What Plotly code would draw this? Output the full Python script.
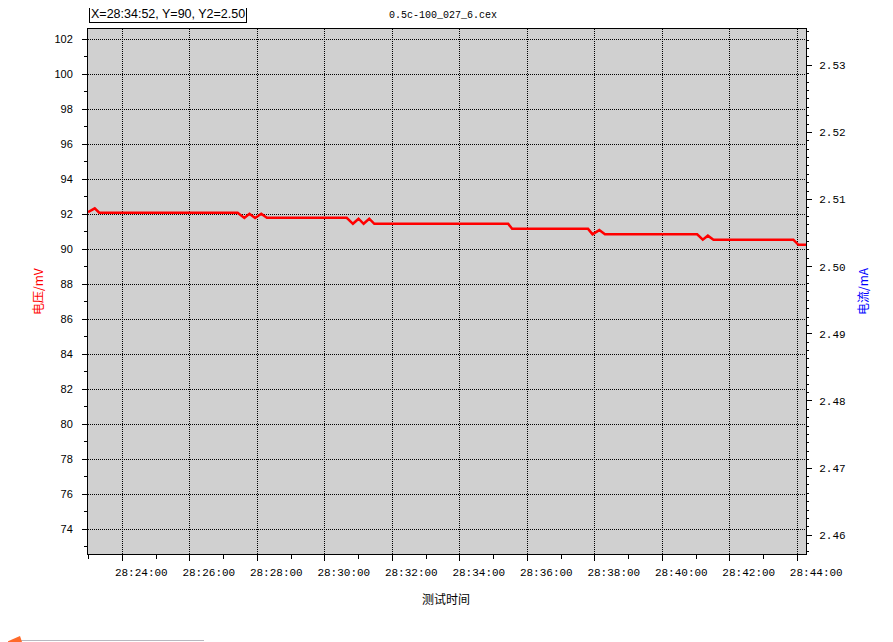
"""Voltage trace over test time, with a right-hand current axis."""

import plotly.graph_objects as go

# sample times (hours run past 24) and the voltage, mV
times = [
    "28:22:59", "28:23:11", "28:23:19", "28:27:25", "28:27:37", "28:27:46",
    "28:27:56", "28:28:07", "28:28:17", "28:30:39", "28:30:50", "28:31:00",
    "28:31:09", "28:31:19", "28:31:28", "28:35:26", "28:35:33", "28:37:48",
    "28:37:56", "28:38:08", "28:38:18", "28:41:02", "28:41:12", "28:41:21",
    "28:41:31", "28:43:53", "28:44:02", "28:44:16",
]
voltage = [
    92.13, 92.34, 92.09, 92.09, 91.79, 92.03,
    91.79, 92.03, 91.80, 91.80, 91.46, 91.75,
    91.46, 91.75, 91.46, 91.46, 91.17, 91.17,
    90.86, 91.10, 90.86, 90.86, 90.55, 90.78,
    90.55, 90.55, 90.26, 90.26,
]

x_tick_labels = [
    "28:24:00", "28:26:00", "28:28:00", "28:30:00", "28:32:00", "28:34:00",
    "28:36:00", "28:38:00", "28:40:00", "28:42:00", "28:44:00",
]
x_range_labels = ["28:22:59", "28:44:15.5"]
voltage_range = [72.59, 102.59]
current_range = [2.4572, 2.5354]

title_text = "0.5c-100_027_6.cex"
cursor_text = "X=28:34:52, Y=90, Y2=2.50"


def to_seconds(label):
    h, m, s = label.split(":")
    return int(h) * 3600 + int(m) * 60 + float(s)


x = [to_seconds(t) for t in times]
tick_vals = [to_seconds(t) for t in x_tick_labels]

MONO = "Liberation Mono, monospace"
CJK = "Noto Sans CJK SC, sans-serif"

# the page body keeps its 8px default margin, so the figure is drawn 8px in
OFF = 8
W, H = 893 - OFF, 642 - OFF

fig = go.Figure()
fig.add_trace(
    go.Scatter(
        x=x,
        y=voltage,
        mode="lines",
        line={"color": "#ff0000", "width": 2.5},
        showlegend=False,
        hovertemplate="%{y:.2f} mV<extra></extra>",
    )
)
# empty trace so the right-hand current axis is drawn
fig.add_trace(go.Scatter(x=[None], y=[None], yaxis="y2", showlegend=False, hoverinfo="skip"))

grid = {"showgrid": True, "gridcolor": "#000000", "gridwidth": 1, "griddash": "1px,1px"}

fig.update_layout(
    width=W,
    height=H,
    margin={"l": 88 - OFF, "r": W - (806 - OFF), "t": 29 - OFF, "b": H - (554 - OFF)},
    paper_bgcolor="#ffffff",
    plot_bgcolor="#d0d0d0",
    title={
        "text": title_text,
        "x": (443 - OFF) / W,
        "xanchor": "center",
        "y": 1 - (14 - OFF) / H,
        "yanchor": "middle",
        "font": {"family": MONO, "size": 10, "color": "#000000"},
    },
    xaxis={
        **grid,
        "range": [to_seconds(v) for v in x_range_labels],
        "tickmode": "array",
        "tickvals": tick_vals,
        "ticktext": x_tick_labels,
        "ticks": "outside",
        "ticklen": 6,
        "tickcolor": "#000000",
        "ticklabelshift": 19,
        "ticklabelstandoff": 2,
        "tickfont": {"family": MONO, "size": 11, "color": "#000000"},
        "minor": {"dtick": 60, "tick0": 0, "ticks": "outside", "ticklen": 4, "tickcolor": "#000000", "showgrid": False},
        "showline": True,
        "linecolor": "#000000",
        "linewidth": 1,
        "mirror": True,
        "zeroline": False,
    },
    yaxis={
        **grid,
        "range": voltage_range,
        "dtick": 2,
        "tick0": 0,
        "ticks": "outside",
        "ticklen": 5,
        "tickcolor": "#000000",
        "ticklabelstandoff": 7,
        "tickfont": {"family": "Liberation Sans, Arial", "size": 11, "color": "#000000"},
        "minor": {"dtick": 1, "tick0": 0, "ticks": "outside", "ticklen": 3, "tickcolor": "#000000", "showgrid": False},
        "showline": True,
        "linecolor": "#000000",
        "linewidth": 1,
        "zeroline": False,
    },
    yaxis2={
        "overlaying": "y",
        "side": "right",
        "range": current_range,
        "dtick": 0.01,
        "tick0": 0,
        "tickformat": ".2f",
        "showgrid": False,
        "ticks": "outside",
        "ticklen": 5,
        "tickcolor": "#000000",
        "ticklabelstandoff": 5,
        "tickfont": {"family": MONO, "size": 11, "color": "#000000"},
        "minor": {"dtick": 0.00125, "tick0": 0, "ticks": "outside", "ticklen": 2, "tickcolor": "#000000", "showgrid": False},
        "showline": True,
        "linecolor": "#000000",
        "linewidth": 1,
        "zeroline": False,
    },
    annotations=[
        {
            "text": cursor_text,
            "xref": "paper", "yref": "paper",
            "x": 0.001, "y": 1 + 14.5 / 525,
            "xanchor": "left", "yanchor": "middle",
            "showarrow": False,
            "font": {"family": "Liberation Sans, Arial", "size": 12.5, "color": "#000000"},
            "bordercolor": "#000000", "borderwidth": 1, "borderpad": 1,
            "bgcolor": "#ffffff",
        },
        {
            "text": "电压/mV",
            "xref": "paper", "yref": "paper",
            "x": (37.5 - 88) / 718, "y": 0.5,
            "xanchor": "center", "yanchor": "middle",
            "textangle": -90, "showarrow": False,
            "font": {"family": CJK, "size": 12, "color": "#ff0000"},
        },
        {
            "text": "电流/mA",
            "xref": "paper", "yref": "paper",
            "x": (862.5 - 88) / 718, "y": 0.5,
            "xanchor": "center", "yanchor": "middle",
            "textangle": -90, "showarrow": False,
            "font": {"family": CJK, "size": 12, "color": "#0000ff"},
        },
        {
            "text": "测试时间",
            "xref": "paper", "yref": "paper",
            "x": (445.5 - 88) / 718, "y": (554 - 598) / 525,
            "xanchor": "center", "yanchor": "middle", "showarrow": False,
            "font": {"family": CJK, "size": 12, "color": "#000000"},
        },
    ],
    shapes=[
        # window-edge remnants at the bottom-left of the capture
        {
            "type": "line", "xref": "paper", "yref": "paper",
            "x0": (21 - 88) / 718, "x1": (204 - 88) / 718,
            "y0": (554 - 640.5) / 525, "y1": (554 - 640.5) / 525,
            "line": {"color": "#b8b8c0", "width": 1},
        },
        {
            "type": "path", "xref": "paper", "yref": "paper",
            "path": "M {:.4f},{:.4f} L {:.4f},{:.4f} L {:.4f},{:.4f} Z".format(
                (6 - 88) / 718, (554 - 642) / 525,
                (20 - 88) / 718, (554 - 636) / 525,
                (22 - 88) / 718, (554 - 642) / 525,
            ),
            "fillcolor": "#ff6a2a", "line": {"width": 0},
        },
    ],
)

fig.write_html("out.html")
